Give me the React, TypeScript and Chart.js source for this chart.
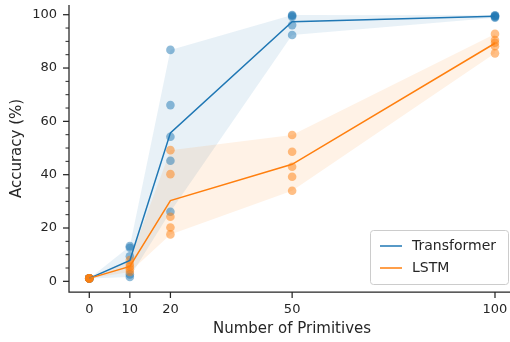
import React, { useEffect, useRef } from "react";
import { Chart, registerables } from "chart.js";

Chart.register(...registerables);

// ---- data ----
const primitives = [0, 10, 20, 50, 100];

// five seeds per setting
const transformerRuns = [
  [1.1, 1.1, 1.1, 1.1, 1.1],
  [13.2, 12.6, 9.4, 2.6, 1.6],
  [86.8, 66.1, 54.2, 45.2, 26.1],
  [99.9, 99.6, 99.2, 96.1, 92.4],
  [99.8, 99.6, 99.4, 99.2, 98.9],
];
const lstmRuns = [
  [1.1, 1.1, 1.1, 1.1, 1.1],
  [8.0, 6.5, 5.5, 4.5, 3.5],
  [49.2, 40.2, 24.2, 20.2, 17.6],
  [54.9, 48.6, 43.0, 39.2, 34.0],
  [92.8, 90.5, 89.5, 88.2, 85.5],
];
const transformerMean = [1.1, 7.8, 55.7, 97.4, 99.4];
const lstmMean = [1.1, 5.6, 30.3, 43.9, 89.3];

const seriesNames = ["Transformer", "LSTM"];
const yTickValues = [0, 20, 40, 60, 80, 100];
const yMinorTicks = [5, 10, 15, 25, 30, 35, 45, 50, 55, 65, 70, 75, 85, 90, 95];
const xTitle = "Number of Primitives";
const yTitle = "Accuracy (%)";

const BLUE = "#1f77b4";
const ORANGE = "#ff7f0e";
const INK = "#262626";
const FONT = "'DejaVu Sans', sans-serif";

const toXY = (vals: number[]) => primitives.map((p, i) => ({ x: p, y: vals[i] }));
const hi = (runs: number[][]) => runs.map((r) => Math.max(...r));
const lo = (runs: number[][]) => runs.map((r) => Math.min(...r));
const pts = (runs: number[][]) =>
  runs.flatMap((r, i) => r.map((v) => ({ x: primitives[i], y: v })));

const zeroPad = (s: any) => {
  s.paddingLeft = 0;
  s.paddingRight = 0;
  s.paddingTop = 0;
  s.paddingBottom = 0;
};

const decor = {
  id: "decor",
  afterDraw(chart: any) {
    const { ctx, chartArea: a, scales } = chart;
    const x = scales.x;
    const y = scales.y;
    ctx.save();
    ctx.strokeStyle = INK;
    ctx.lineCap = "butt";
    // spines
    ctx.lineWidth = 1.25;
    ctx.beginPath();
    ctx.moveTo(a.left, a.top);
    ctx.lineTo(a.left, a.bottom);
    ctx.lineTo(a.right, a.bottom);
    ctx.stroke();
    // y ticks
    yTickValues.forEach((v) => {
      const py = y.getPixelForValue(v);
      ctx.lineWidth = 1.25;
      ctx.beginPath();
      ctx.moveTo(a.left - 6, py);
      ctx.lineTo(a.left, py);
      ctx.stroke();
    });
    yMinorTicks.forEach((v) => {
      const py = y.getPixelForValue(v);
      ctx.lineWidth = 1;
      ctx.beginPath();
      ctx.moveTo(a.left - 3.5, py);
      ctx.lineTo(a.left, py);
      ctx.stroke();
    });
    // x ticks
    primitives.forEach((v) => {
      const px = x.getPixelForValue(v);
      ctx.lineWidth = 1.25;
      ctx.beginPath();
      ctx.moveTo(px, a.bottom);
      ctx.lineTo(px, a.bottom + 6);
      ctx.stroke();
    });
    // axis titles
    ctx.fillStyle = INK;
    ctx.font = `15px ${FONT}`;
    ctx.textAlign = "center";
    ctx.textBaseline = "middle";
    ctx.fillText(xTitle, 292, 329);
    ctx.save();
    ctx.translate(17, (a.top + a.bottom) / 2);
    ctx.rotate(-Math.PI / 2);
    ctx.fillText(yTitle, 0, 0);
    ctx.restore();
    // legend
    const lx = a.right - 140;
    const ly = a.bottom - 62;
    const lw = 138;
    const lh = 54;
    ctx.beginPath();
    ctx.roundRect(lx + 0.5, ly + 0.5, lw, lh, 3);
    ctx.fillStyle = "rgba(255,255,255,0.8)";
    ctx.fill();
    ctx.strokeStyle = "#cccccc";
    ctx.lineWidth = 1;
    ctx.stroke();
    const colors = [BLUE, ORANGE];
    ctx.font = `14px ${FONT}`;
    ctx.textAlign = "left";
    seriesNames.forEach((name, i) => {
      const cy = ly + 16 + i * 22;
      ctx.strokeStyle = colors[i];
      ctx.lineWidth = 1.5;
      ctx.beginPath();
      ctx.moveTo(lx + 10, cy);
      ctx.lineTo(lx + 32, cy);
      ctx.stroke();
      ctx.fillStyle = INK;
      ctx.fillText(name, lx + 42, cy);
    });
    ctx.restore();
  },
};

export default function App() {
  const ref = useRef<HTMLCanvasElement | null>(null);
  useEffect(() => {
    document.body.style.margin = "0";
    const canvas = ref.current;
    if (!canvas) return;
    const band = (data: any, color: string, fill: any, order: number) => ({
      type: "line" as const,
      data,
      borderWidth: 0,
      borderColor: "transparent",
      backgroundColor: color,
      pointRadius: 0,
      fill,
      order,
      tension: 0,
    });
    const chart = new Chart(canvas, {
      type: "scatter",
      data: {
        datasets: [
          band(toXY(hi(transformerRuns)), "rgba(31,119,180,0.1)", "+1", 8),
          band(toXY(lo(transformerRuns)), "rgba(31,119,180,0.1)", false, 8),
          band(toXY(hi(lstmRuns)), "rgba(255,127,14,0.1)", "+1", 7),
          band(toXY(lo(lstmRuns)), "rgba(255,127,14,0.1)", false, 7),
          {
            type: "scatter",
            data: pts(transformerRuns),
            backgroundColor: "rgba(31,119,180,0.5)",
            borderWidth: 0,
            pointRadius: 4.3,
            order: 4,
          },
          {
            type: "scatter",
            data: pts(lstmRuns),
            backgroundColor: "rgba(255,127,14,0.5)",
            borderWidth: 0,
            pointRadius: 4.3,
            order: 3,
          },
          {
            type: "line",
            data: toXY(transformerMean),
            borderColor: BLUE,
            borderWidth: 1.5,
            pointRadius: 0,
            fill: false,
            tension: 0,
            order: 2,
          },
          {
            type: "line",
            data: toXY(lstmMean),
            borderColor: ORANGE,
            borderWidth: 1.5,
            pointRadius: 0,
            fill: false,
            tension: 0,
            order: 1,
          },
        ] as any,
      },
      options: {
        animation: false,
        responsive: false,
        maintainAspectRatio: false,
        layout: { autoPadding: false, padding: { top: 5, right: 0, left: 0, bottom: 0 } },
        plugins: {
          legend: { display: false },
          tooltip: { enabled: false },
        },
        scales: {
          x: {
            type: "linear",
            min: -5,
            max: 103.7,
            afterBuildTicks: (s: any) => {
              s.ticks = primitives.map((v) => ({ value: v }));
            },
            afterFit: (s: any) => {
              s.height = 50;
              zeroPad(s);
            },
            grid: { display: true, drawOnChartArea: false, drawTicks: false, color: "transparent" },
            border: { display: false },
            ticks: {
              padding: 10,
              color: INK,
              font: { family: FONT, size: 13 },
              maxRotation: 0,
              autoSkip: false,
            },
          },
          y: {
            type: "linear",
            min: -4,
            max: 103.64,
            afterBuildTicks: (s: any) => {
              s.ticks = yTickValues.map((v) => ({ value: v }));
            },
            afterFit: (s: any) => {
              s.width = 69;
              zeroPad(s);
            },
            grid: { display: true, drawOnChartArea: false, drawTicks: false, color: "transparent" },
            border: { display: false },
            ticks: {
              padding: 12,
              color: INK,
              font: { family: FONT, size: 13 },
              autoSkip: false,
            },
          },
        },
      },
      plugins: [decor],
    } as any);
    return () => chart.destroy();
  }, []);
  return (
    <canvas
      ref={ref}
      width={510}
      height={342}
      style={{ display: "block", width: 510, height: 342 }}
    />
  );
}
